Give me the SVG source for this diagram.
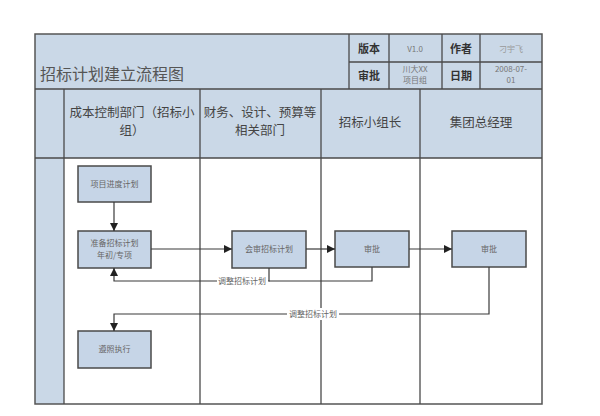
<svg xmlns="http://www.w3.org/2000/svg" width="600" height="416" viewBox="0 0 600 416">
<defs>
<style>
.ln{stroke:#4a4a4a;stroke-width:1.3;fill:none}
.frame{stroke:#555;stroke-width:1.5;fill:none}
.box{fill:#c6d5e7;stroke:#4a4a4a;stroke-width:1.5}
.t{font-family:"Noto Sans CJK SC","Noto Sans",sans-serif;fill:#555;text-anchor:middle}
.bt{font-size:8px;fill:#666}
.hd{font-size:12.5px;fill:#444}
.tb{font-size:11px;font-weight:bold;fill:#333}
.tv{font-size:8px;fill:#777}
.conn{stroke:#3a3a3a;stroke-width:1.2;fill:none}
</style>
<marker id="ar" viewBox="0 0 10 10" refX="10" refY="5" markerWidth="7" markerHeight="7" orient="auto">
<path d="M0,0 L10,5 L0,10 z" fill="#222"/>
</marker>
</defs>
<rect width="600" height="416" fill="#fff"/>
<g id="frame">
<rect x="35" y="34" width="507" height="124" fill="#cad8e7"/>
<rect x="35" y="158" width="29" height="246" fill="#cad8e7"/>
<rect x="35" y="34" width="507" height="370" class="frame"/>
<line x1="35" y1="89" x2="542" y2="89" class="ln"/>
<line x1="35" y1="158" x2="542" y2="158" class="ln"/>
<line x1="64" y1="89" x2="64" y2="404" class="ln"/>
<line x1="200" y1="89" x2="200" y2="404" class="ln"/>
<line x1="321" y1="89" x2="321" y2="404" class="ln"/>
<line x1="420" y1="89" x2="420" y2="404" class="ln"/>
<line x1="349" y1="34" x2="349" y2="89" class="ln"/>
<line x1="389" y1="34" x2="389" y2="89" class="ln"/>
<line x1="442" y1="34" x2="442" y2="89" class="ln"/>
<line x1="480" y1="34" x2="480" y2="89" class="ln"/>
<line x1="349" y1="62" x2="542" y2="62" class="ln"/>
<text x="40" y="80" class="t" style="font-size:16px;text-anchor:start;fill:#555">招标计划建立流程图</text>
<text x="369" y="53" class="t tb">版本</text>
<text x="415" y="52" class="t tv">V1.0</text>
<text x="461" y="53" class="t tb">作者</text>
<text x="511" y="52" class="t tv" style="fill:#999">刁宇飞</text>
<text x="369" y="80" class="t tb">审批</text>
<text x="415" y="72" class="t tv">川大XX</text>
<text x="415" y="83" class="t tv">项目组</text>
<text x="461" y="80" class="t tb">日期</text>
<text x="511" y="72" class="t tv">2008-07-</text>
<text x="511" y="83" class="t tv">01</text>
<text x="132" y="117" class="t hd">成本控制部门（招标小</text>
<text x="132" y="135" class="t hd">组）</text>
<text x="260" y="117" class="t hd">财务、设计、预算等</text>
<text x="260" y="135" class="t hd">相关部门</text>
<text x="370" y="127" class="t hd">招标小组长</text>
<text x="481" y="127" class="t hd">集团总经理</text>
</g>
<g id="n1"><rect x="78" y="166" width="73" height="36" class="box"/><text x="114.5" y="187" class="t bt">项目进度计划</text></g>
<g id="n2"><rect x="78" y="231" width="73" height="37" class="box"/><text x="114.5" y="246" class="t bt">准备招标计划</text><text x="114.5" y="258" class="t bt">年初/专项</text></g>
<g id="n3"><rect x="232" y="231" width="74" height="37" class="box"/><text x="269" y="252" class="t bt">会审招标计划</text></g>
<g id="n4"><rect x="335" y="231" width="74" height="36" class="box"/><text x="372" y="252" class="t bt">审批</text></g>
<g id="n5"><rect x="452" y="231" width="74" height="36" class="box"/><text x="489" y="252" class="t bt">审批</text></g>
<g id="n6"><rect x="78" y="331" width="73" height="37" class="box"/><text x="114.5" y="352" class="t bt">遵照执行</text></g>
<g id="connectors">
<line x1="114" y1="202" x2="114" y2="231" class="conn" marker-end="url(#ar)"/>
<line x1="151" y1="249" x2="232" y2="249" class="conn" marker-end="url(#ar)"/>
<line x1="306" y1="249" x2="335" y2="249" class="conn" marker-end="url(#ar)"/>
<line x1="409" y1="249" x2="452" y2="249" class="conn" marker-end="url(#ar)"/>
<polyline points="372,267 372,281 269,281" class="conn"/>
<polyline points="269,268 269,281 114,281 114,268" class="conn" marker-end="url(#ar)"/>
<rect x="217" y="275" width="51" height="12" fill="#fff"/>
<text x="242" y="284" class="t bt">调整招标计划</text>
<polyline points="489,267 489,314 114,314 114,331" class="conn" marker-end="url(#ar)"/>
<rect x="287" y="308" width="52" height="12" fill="#fff"/>
<text x="313" y="317" class="t bt">调整招标计划</text>
</g>
</svg>
